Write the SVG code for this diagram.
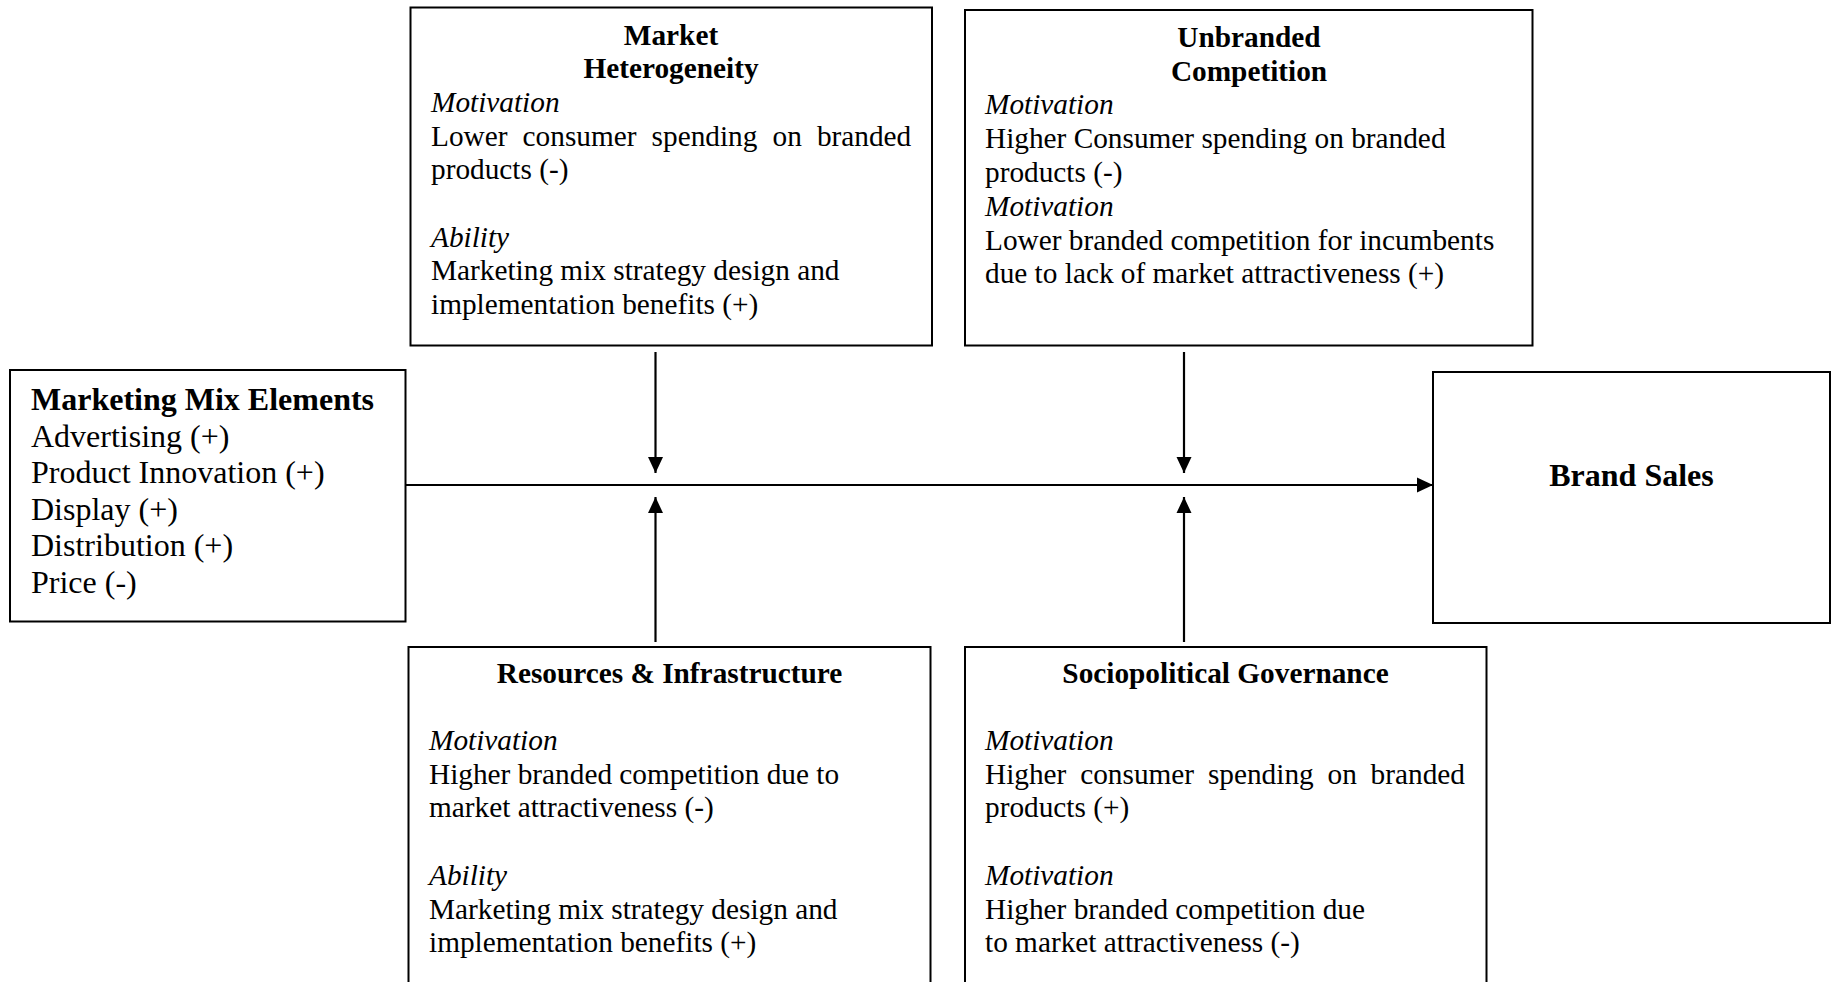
<svg xmlns="http://www.w3.org/2000/svg" width="1834" height="982" viewBox="0 0 1834 982">
<style>
.box{fill:#fff;stroke:#000;stroke-width:2}
.t{font-family:"Liberation Serif","Times New Roman",serif;font-size:29.3px;fill:#000}
.tl{font-family:"Liberation Serif","Times New Roman",serif;font-size:32px;fill:#000}
.b{font-weight:bold}
.i{font-style:italic}
.c{text-anchor:middle}
.ln{stroke:#000;stroke-width:2.2;fill:none}
</style>
<defs>
<marker id="ah" viewBox="0 0 16 16" refX="16" refY="8" markerWidth="16" markerHeight="16" orient="auto" markerUnits="userSpaceOnUse">
<path d="M0,0.5 L16,8 L0,15.5 z" fill="#000"/>
</marker>
</defs>
<rect width="1834" height="982" fill="#fff"/>

<g id="market-heterogeneity">
<rect class="box" x="410.5" y="7.5" width="521.5" height="338"/>
<text class="t b c" x="671" y="44.5">Market</text>
<text class="t b c" x="671" y="78.2">Heterogeneity</text>
<text class="t i" x="431" y="111.9">Motivation</text>
<text class="t" y="145.6"><tspan x="431">Lower</tspan><tspan x="522.6">consumer</tspan><tspan x="651.6">spending</tspan><tspan x="772.5">on</tspan><tspan x="816.9">branded</tspan></text>
<text class="t" x="431" y="179.3">products (-)</text>
<text class="t i" x="431" y="246.7">Ability</text>
<text class="t" x="431" y="280.4">Marketing mix strategy design and</text>
<text class="t" x="431" y="314.1">implementation benefits (+)</text>
</g>

<g id="unbranded-competition">
<rect class="box" x="965" y="10" width="567.5" height="335.5"/>
<text class="t b c" x="1249" y="46.7">Unbranded</text>
<text class="t b c" x="1249" y="80.5">Competition</text>
<text class="t i" x="985" y="114.3">Motivation</text>
<text class="t" x="985" y="148.1">Higher Consumer spending on branded</text>
<text class="t" x="985" y="181.9">products (-)</text>
<text class="t i" x="985" y="215.7">Motivation</text>
<text class="t" x="985" y="249.5">Lower branded competition for incumbents</text>
<text class="t" x="985" y="283.3">due to lack of market attractiveness (+)</text>
</g>

<g id="marketing-mix-elements">
<rect class="box" x="10" y="370" width="395.5" height="251.5"/>
<text class="tl b" x="31" y="410">Marketing Mix Elements</text>
<text class="tl" x="31" y="446.5">Advertising (+)</text>
<text class="tl" x="31" y="483">Product Innovation (+)</text>
<text class="tl" x="31" y="519.5">Display (+)</text>
<text class="tl" x="31" y="556">Distribution (+)</text>
<text class="tl" x="31" y="592.5">Price (-)</text>
</g>

<g id="brand-sales">
<rect class="box" x="1433" y="372" width="397" height="251"/>
<text class="tl b c" x="1631.5" y="486">Brand Sales</text>
</g>

<g id="resources-infrastructure">
<rect class="box" x="408.5" y="647" width="522" height="345"/>
<text class="t b c" x="669.5" y="682.6">Resources &amp; Infrastructure</text>
<text class="t i" x="429" y="750">Motivation</text>
<text class="t" x="429" y="783.7">Higher branded competition due to</text>
<text class="t" x="429" y="817.4">market attractiveness (-)</text>
<text class="t i" x="429" y="884.8">Ability</text>
<text class="t" x="429" y="918.5">Marketing mix strategy design and</text>
<text class="t" x="429" y="952.2">implementation benefits (+)</text>
</g>

<g id="sociopolitical-governance">
<rect class="box" x="965" y="647" width="521.5" height="345"/>
<text class="t b c" x="1225.5" y="682.6">Sociopolitical Governance</text>
<text class="t i" x="985" y="750">Motivation</text>
<text class="t" y="783.7"><tspan x="985">Higher</tspan><tspan x="1080.2">consumer</tspan><tspan x="1207.9">spending</tspan><tspan x="1327.5">on</tspan><tspan x="1370.6">branded</tspan></text>
<text class="t" x="985" y="817.4">products (+)</text>
<text class="t i" x="985" y="884.8">Motivation</text>
<text class="t" x="985" y="918.5">Higher branded competition due</text>
<text class="t" x="985" y="952.2">to market attractiveness (-)</text>
</g>

<g id="connectors">
<line class="ln" x1="406" y1="485" x2="1433" y2="485" marker-end="url(#ah)"/>
<line class="ln" x1="655.5" y1="352" x2="655.5" y2="473" marker-end="url(#ah)"/>
<line class="ln" x1="1184" y1="352" x2="1184" y2="473" marker-end="url(#ah)"/>
<line class="ln" x1="655.5" y1="642" x2="655.5" y2="497" marker-end="url(#ah)"/>
<line class="ln" x1="1184" y1="642" x2="1184" y2="497" marker-end="url(#ah)"/>
</g>
</svg>
